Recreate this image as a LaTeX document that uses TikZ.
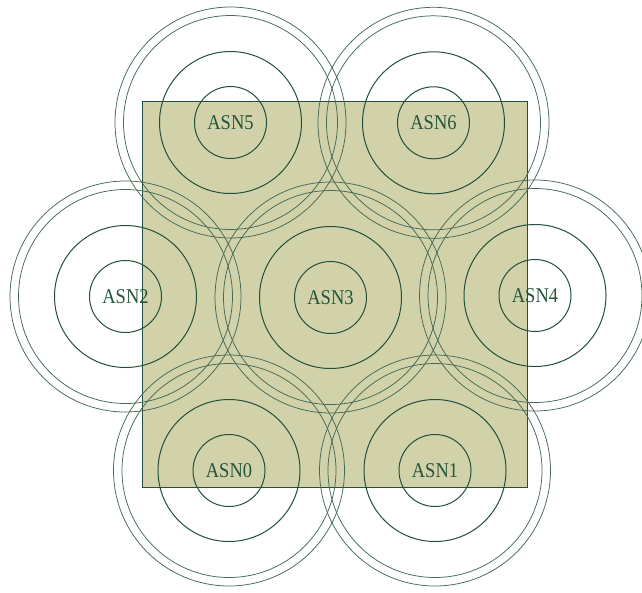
\documentclass[tikz,border=0pt]{standalone}
\usepackage{fontspec}
\setmainfont{Liberation Serif}
\newfontfamily\asnfont[FakeStretch=0.88]{Liberation Serif}
\definecolor{zonefill}{HTML}{D1D1AA}
\definecolor{ringdark}{HTML}{24503A}
\definecolor{ringlight}{HTML}{456A55}
\definecolor{labelcol}{HTML}{24553A}
\tikzset{
  ringin/.style={draw=ringdark, line width=1pt},
  ringout/.style={draw=ringlight, line width=0.75pt},
  asnlabel/.style={text=labelcol, font=\asnfont\fontsize{21}{24}\selectfont, inner sep=0pt},
  zone/.style={fill=zonefill, draw=ringdark, line width=1pt}
}
\begin{document}
\begin{tikzpicture}[x=1pt,y=-1pt]
\useasboundingbox (0,0) rectangle (642,592);
\clip (0,0) rectangle (642,592);
\fill[white] (0,0) rectangle (642,592);
\coordinate (sqtl) at (142,101);
\coordinate (sqbr) at (527,487);
\draw[zone] (sqtl) rectangle (sqbr);
\foreach \n/\x/\y in {0/229/470.5, 1/435/470.5, 2/125.5/296.5, 3/330.5/297.5, 4/535/295.5, 5/230.5/122.5, 6/433.5/122.8}{
  \coordinate (c\n) at (\x,\y);
  \draw[ringin] (c\n) circle (36pt);
  \draw[ringin] (c\n) circle (71pt);
  \draw[ringout] (c\n) circle (107pt);
  \draw[ringout] (c\n) circle (115.5pt);
  \node[asnlabel] (asn\n) at (c\n) {ASN\n};
}
\end{tikzpicture}
\end{document}
